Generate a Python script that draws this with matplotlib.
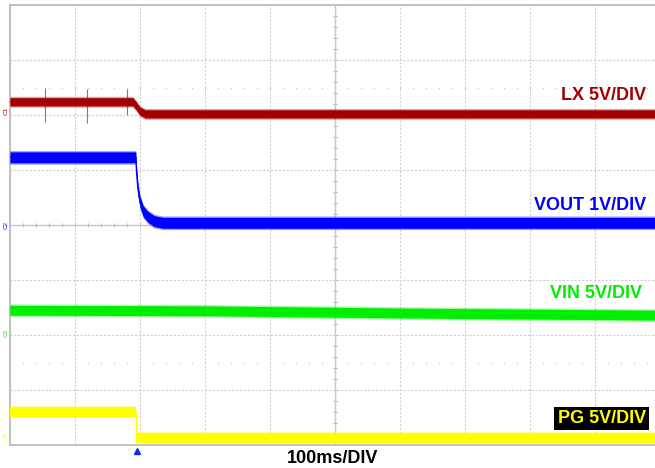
import numpy as np
import matplotlib
matplotlib.use("Agg")
import matplotlib.pyplot as plt

plt.rcParams['font.family'] = ['Liberation Sans', 'DejaVu Sans']

# time in ms (100ms/DIV, 10 divisions), level in divisions (8 divisions)
lx_t = [0, 189, 194, 200, 208, 1000]
lx_v = [6.24, 6.24, 6.17, 6.07, 6.02, 6.02]
lx_spike_t = [54, 118, 180]
lx_spike_lo = [5.87, 5.86, 6.00]
lx_spike_hi = [6.49, 6.47, 6.47]

vout_t = [0, 193.5, 195, 197, 200, 205, 212, 222, 235, 1000]
vout_v = [5.23, 5.23, 4.91, 4.64, 4.42, 4.25, 4.15, 4.07, 4.04, 4.04]

vin_t = [0, 300, 600, 1000]
vin_v = [2.45, 2.44, 2.40, 2.36]

pg_t = [0, 194, 194, 1000]
pg_v = [0.60, 0.60, 0.13, 0.13]

channels = ['LX 5V/DIV', 'VOUT 1V/DIV', 'VIN 5V/DIV', 'PG 5V/DIV']
colors = ['#a50000', '#0000ff', '#00ee00', '#ffff00']
ground = [6.07, 4.0, 2.04, 0.16]
label_x = [978, 978, 972, 978]
label_y = [6.36, 4.36, 2.75, 0.48]

fig = plt.figure(figsize=(6.55, 4.68), dpi=100)
ax = fig.add_axes([10 / 655, 23 / 468, 650 / 655, 440 / 468])
ax.set_xlim(0, 1000)
ax.set_ylim(0, 8)

# graticule
ax.set_xticks(np.arange(0, 1001, 100))
ax.set_yticks(np.arange(0, 9, 1))
ax.grid(True, color='#cfcfcf', linestyle=(0, (2, 1.5)), linewidth=0.8)
ax.tick_params(length=0, labelbottom=False, labelleft=False)
for s in ax.spines.values():
    s.set_color('#bdbdbd')
    s.set_linewidth(1.3)
ax.axvline(500, color='#c4c4c4', lw=1.0, zorder=1)
ax.axhline(4, color='#c4c4c4', lw=1.0, zorder=1)
yy = np.arange(0.2, 8, 0.2)
ax.plot(np.full(yy.shape, 500), yy, ls='none', marker='_', ms=3.5, mew=0.8, color='#b8b8b8', zorder=1)
xx = np.arange(20, 1000, 20)
ax.plot(xx, np.full(xx.shape, 4), ls='none', marker='|', ms=3.5, mew=0.8, color='#b8b8b8', zorder=1)
for yd in [6.5, 1.5]:
    ax.plot(xx, np.full(xx.shape, yd), ls='none', marker='s', ms=0.9, mew=0, color='#c8c8c8', zorder=1)

# traces: noisy band drawn as a filled strip around the level
def trace(t, v, col, half):
    t = np.array(t, float)
    v = np.array(v, float)
    ax.fill_between(t, v - half - 0.025, v + half + 0.025, color=col, alpha=0.35, lw=0, zorder=3)
    ax.fill_between(t, v - half, v + half, color=col, lw=0, zorder=4)
    ax.plot(t, v, color=col, lw=1.0, zorder=4)

ax.vlines(lx_spike_t, lx_spike_lo, lx_spike_hi, color='#c06060', lw=0.8, zorder=3)
trace(lx_t, lx_v, colors[0], 0.075)
trace(vout_t, vout_v, colors[1], 0.10)
trace(vin_t, vin_v, colors[2], 0.09)
trace(pg_t, pg_v, colors[3], 0.09)

# channel labels
for i, name in enumerate(channels):
    kw = dict(ha='right', va='center', fontsize=13, fontweight='bold', color=colors[i], zorder=6)
    if name.startswith('PG'):
        kw['bbox'] = dict(boxstyle='square,pad=0.18', fc='black', ec='none')
    ax.text(label_x[i], label_y[i], name, **kw)
    ax.text(-6, ground[i], 'C%d' % (i + 1), ha='center', va='center', fontsize=4.5,
            rotation=90, color=colors[i], clip_on=False)

# trigger position marker
ax.plot([195.4], [-0.11], marker='^', ms=4, color='#1030e0', clip_on=False, zorder=6)

fig.text(333 / 655, 1 - 458.5 / 468, '100ms/DIV', ha='center', va='center',
         fontsize=13, fontweight='bold', color='black')

fig.savefig('out.png', dpi=100)
